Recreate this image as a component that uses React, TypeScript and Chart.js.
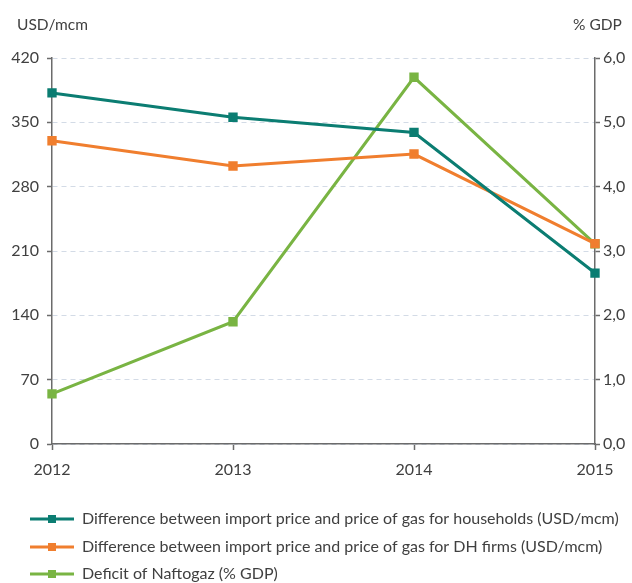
import React, { useEffect, useRef } from "react";
import { Chart, registerables } from "chart.js";

Chart.register(...registerables);

const years = ["2012", "2013", "2014", "2015"];
const households = [382, 355.5, 339, 186];
const dhFirms = [330, 302.5, 315.5, 218];
const naftogaz = [0.78, 1.9, 5.7, 3.11];

const labelHouseholds = "Difference between import price and price of gas for households (USD/mcm)";
const labelDH = "Difference between import price and price of gas for DH firms (USD/mcm)";
const labelNaftogaz = "Deficit of Naftogaz (% GDP)";

const leftTitle = "USD/mcm";
const rightTitle = "% GDP";

const TEAL = "#0b7d72";
const ORANGE = "#f07e2e";
const GREEN = "#79b443";
const FONT = "Lato, 'Open Sans', sans-serif";
const TEXT = "#404040";
const AXIS = "#6b6b6b";

const titlesAndLegend = {
  id: "titlesAndLegend",
  afterDraw(chart: any) {
    const ctx = chart.ctx as CanvasRenderingContext2D;
    ctx.save();
    ctx.fillStyle = TEXT;
    ctx.font = `15.5px ${FONT}`;
    ctx.textBaseline = "middle";
    ctx.textAlign = "left";
    ctx.fillText(leftTitle, 17, 25);
    ctx.fillText(rightTitle, 573, 25);
    ctx.font = `16px ${FONT}`;
    const items = chart.data.datasets.map((d: any) => ({ label: d.label, color: d.borderColor }));
    const rows = [519, 547, 574];
    items.forEach((it: any, i: number) => {
      const y = rows[i];
      ctx.strokeStyle = it.color;
      ctx.lineWidth = 3;
      ctx.beginPath();
      ctx.moveTo(30, y);
      ctx.lineTo(74, y);
      ctx.stroke();
      ctx.fillStyle = it.color;
      ctx.fillRect(48, y - 4, 8, 8);
      ctx.fillStyle = TEXT;
      ctx.fillText(it.label, 82, y);
    });
    ctx.restore();
  },
};

export default function App() {
  const ref = useRef<HTMLCanvasElement | null>(null);
  useEffect(() => {
    if (!ref.current) return;
    const common = {
      borderWidth: 3,
      pointStyle: "rect" as const,
      pointRadius: 4.5,
      pointHoverRadius: 4.5,
      tension: 0,
    };
    const chart = new Chart(ref.current, {
      type: "line",
      data: {
        labels: years,
        datasets: [
          { ...common, label: labelHouseholds, data: households, borderColor: TEAL, backgroundColor: TEAL, yAxisID: "y" },
          { ...common, label: labelDH, data: dhFirms, borderColor: ORANGE, backgroundColor: ORANGE, yAxisID: "y" },
          { ...common, label: labelNaftogaz, data: naftogaz, borderColor: GREEN, backgroundColor: GREEN, yAxisID: "y1" },
        ],
      },
      options: {
        animation: false,
        responsive: false,
        layout: { padding: { top: 58, left: 0, right: 0, bottom: 0 } },
        plugins: { legend: { display: false }, tooltip: { enabled: false } },
        scales: {
          x: {
            offset: false,
            grid: { drawOnChartArea: false, drawTicks: true, tickLength: 6, tickColor: AXIS, tickWidth: 1.5 },
            border: { color: AXIS, width: 1.5 },
            ticks: { color: TEXT, font: { family: FONT, size: 16 }, padding: 10, maxRotation: 0 },
            afterFit: (s: any) => { s.height = 139; },
          },
          y: {
            position: "left",
            min: 0,
            max: 420,
            ticks: { stepSize: 70, color: TEXT, font: { family: FONT, size: 16 }, padding: 8 },
            grid: { color: "#d3dbe6", lineWidth: 1, tickColor: AXIS, tickLength: 5, tickWidth: 1.5 },
            border: { color: AXIS, width: 1.5, dash: [5, 4] },
            afterFit: (s: any) => { s.width = 52; },
          },
          y1: {
            position: "right",
            min: 0,
            max: 6,
            ticks: {
              stepSize: 1,
              color: TEXT,
              font: { family: FONT, size: 16 },
              padding: 3,
              callback: (v: any) => Number(v).toFixed(1).replace(".", ","),
            },
            grid: { drawOnChartArea: false, tickColor: AXIS, tickLength: 5, tickWidth: 1.5 },
            border: { color: AXIS, width: 1.5 },
            afterFit: (s: any) => { s.width = 37; },
          },
        },
      },
      plugins: [titlesAndLegend],
    });
    return () => chart.destroy();
  }, []);
  return (
    <div style={{ position: "fixed", top: 0, left: 0, width: 632, height: 583 }}>
      <canvas ref={ref} width={632} height={583} style={{ display: "block" }} />
    </div>
  );
}
